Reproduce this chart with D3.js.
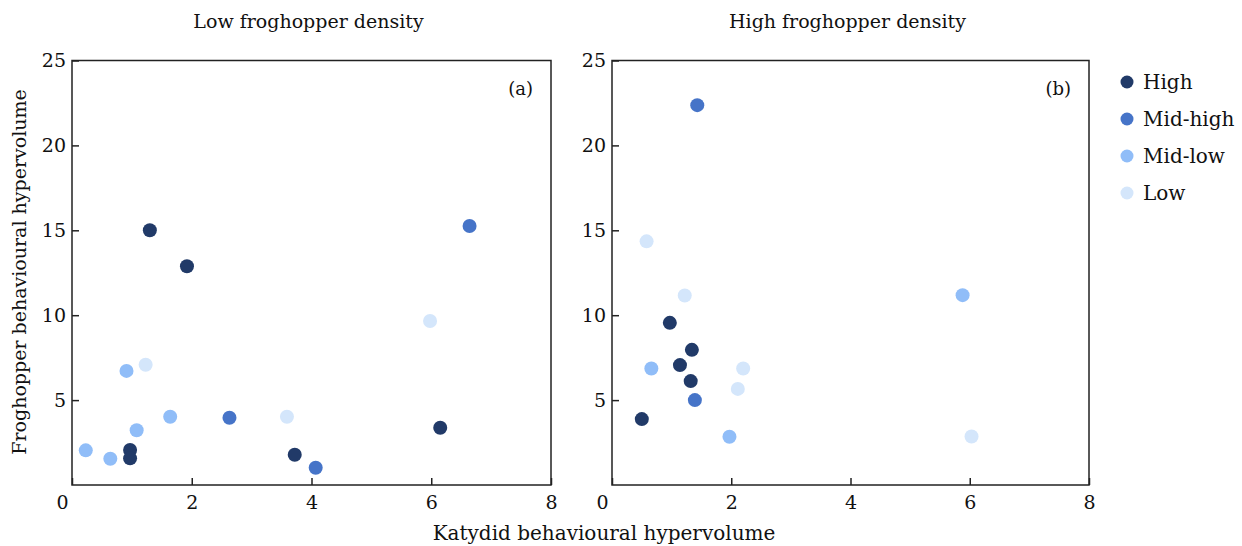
<!DOCTYPE html>
<html>
<head>
<meta charset="utf-8">
<script src="https://cdn.jsdelivr.net/npm/d3@7"></script>
<style>
  body { margin: 0; background: #fff; }
  text { font-family: 'DejaVu Serif', serif; fill: #111; }
</style>
</head>
<body>
<div id="chart"></div>
<script>
const categories = ['High', 'Mid-high', 'Mid-low', 'Low'];
const categoryColors = ['#213a68', '#4674c8', '#90bdf8', '#d4e6fb'];
const xTicks = [0, 2, 4, 6, 8];
const yTicks = [5, 10, 15, 20, 25];

// (a) low froghopper density
const lowX =     [1.30, 1.92, 0.97, 0.97, 3.72, 6.15, 6.64, 2.63, 4.07, 0.23, 0.64, 0.91, 1.08, 1.64, 1.23, 3.59, 5.98];
const lowY =     [15.0, 12.88, 2.06, 1.57, 1.78, 3.37, 15.25, 3.96, 1.02, 2.04, 1.55, 6.72, 3.22, 4.02, 7.08, 4.02, 9.66];
const lowGroup = ['High', 'High', 'High', 'High', 'High', 'High', 'Mid-high', 'Mid-high', 'Mid-high',
                  'Mid-low', 'Mid-low', 'Mid-low', 'Mid-low', 'Mid-low', 'Low', 'Low', 'Low'];

// (b) high froghopper density
const highX =     [0.50, 1.14, 1.34, 1.32, 0.97, 1.43, 1.39, 0.66, 1.97, 5.88, 0.58, 1.22, 2.20, 2.11, 6.03];
const highY =     [3.88, 7.06, 7.96, 6.12, 9.55, 22.37, 5.0, 6.86, 2.84, 11.18, 14.35, 11.16, 6.86, 5.66, 2.86];
const highGroup = ['High', 'High', 'High', 'High', 'High', 'Mid-high', 'Mid-high', 'Mid-low', 'Mid-low', 'Mid-low',
                   'Low', 'Low', 'Low', 'Low', 'Low'];

const width = 1242, height = 546;
const svg = d3.select('#chart').append('svg')
  .attr('width', width)
  .attr('height', height);

const color = d3.scaleOrdinal().domain(categories).range(categoryColors);
const y = d3.scaleLinear().domain([0, 25]).range([485, 60.5]);

function drawPanel(left, right, title, tag, xs, ys, groups) {
  const x = d3.scaleLinear().domain([0, 8]).range([left, right]);

  svg.append('rect')
    .attr('x', left)
    .attr('y', y(25))
    .attr('width', right - left)
    .attr('height', y(0) - y(25))
    .attr('fill', 'none')
    .attr('stroke', '#222')
    .attr('stroke-width', 1.5);

  const xAxis = svg.append('g')
    .attr('transform', `translate(0,${y(0)})`)
    .call(d3.axisBottom(x).tickValues(xTicks).tickSize(-7).tickSizeOuter(0).tickPadding(11));
  xAxis.select('.domain').remove();
  xAxis.selectAll('line').attr('stroke', '#222').attr('stroke-width', 1.5);
  xAxis.selectAll('text')
    .attr('font-family', 'DejaVu Serif')
    .style('font-size', '19px')
    .attr('fill', '#111')
    .attr('dx', d => d === 0 ? -10 : 0);

  const yAxis = svg.append('g')
    .attr('transform', `translate(${left},0)`)
    .call(d3.axisLeft(y).tickValues(yTicks).tickSize(-7).tickSizeOuter(0).tickPadding(6));
  yAxis.select('.domain').remove();
  yAxis.selectAll('line').attr('stroke', '#222').attr('stroke-width', 1.5);
  yAxis.selectAll('text')
    .attr('font-family', 'DejaVu Serif')
    .style('font-size', '19px')
    .attr('fill', '#111');

  svg.append('text')
    .attr('x', (left + right) / 2 - 3)
    .attr('y', 28)
    .attr('text-anchor', 'middle')
    .style('font-size', '19px')
    .text(title);

  svg.append('text')
    .attr('x', right - 18)
    .attr('y', 95)
    .attr('text-anchor', 'end')
    .style('font-size', '18px')
    .text(tag);

  const points = xs.map((v, i) => ({x: v, y: ys[i], group: groups[i]}));
  svg.append('g').selectAll('circle')
    .data(points)
    .enter().append('circle')
    .attr('cx', d => x(d.x))
    .attr('cy', d => y(d.y))
    .attr('r', 7)
    .attr('fill', d => color(d.group));
}

drawPanel(72, 551, 'Low froghopper density', '(a)', lowX, lowY, lowGroup);
drawPanel(612, 1089, 'High froghopper density', '(b)', highX, highY, highGroup);

svg.append('text')
  .attr('x', 604)
  .attr('y', 540)
  .attr('text-anchor', 'middle')
  .style('font-size', '20px')
  .text('Katydid behavioural hypervolume');

svg.append('text')
  .attr('transform', `translate(26,272) rotate(-90)`)
  .attr('text-anchor', 'middle')
  .style('font-size', '19px')
  .text('Froghopper behavioural hypervolume');

const legend = svg.append('g')
  .selectAll('g')
  .data(categories)
  .enter().append('g')
  .attr('transform', (d, i) => `translate(1127,${82 + i * 37})`);

legend.append('circle')
  .attr('r', 6.5)
  .attr('fill', d => color(d));

legend.append('text')
  .attr('x', 16)
  .attr('dy', '0.35em')
  .style('font-size', '20px')
  .text(d => d);
</script>
</body>
</html>
